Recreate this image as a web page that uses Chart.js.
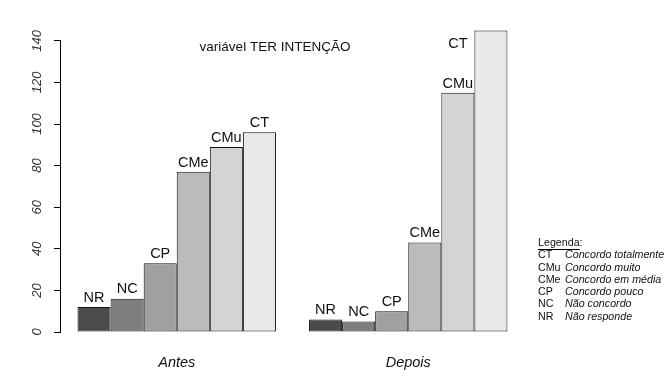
<!DOCTYPE html>
<html>
<head>
<meta charset="utf-8">
<script src="https://cdn.jsdelivr.net/npm/chart.js@4.4.1/dist/chart.umd.min.js"></script>
<style>
  html, body { margin: 0; padding: 0; background: #ffffff; }
  #wrap { width: 670px; height: 383px; }
</style>
</head>
<body>
<div id="wrap"><canvas id="c" width="670" height="383"></canvas></div>
<script>
// ---- data ----
const groups = ['Antes', 'Depois'];
const categories = ['NR', 'NC', 'CP', 'CMe', 'CMu', 'CT'];
const valuesNR  = [12, 6];
const valuesNC  = [16, 5];
const valuesCP  = [33, 10];
const valuesCMe = [77, 43];
const valuesCMu = [89, 115];
const valuesCT  = [96, 145];
const yTicks = [0, 20, 40, 60, 80, 100, 120, 140];
const titleText = 'variável TER INTENÇÃO';
const legendTitle = 'Legenda:';
const legendCodes = ['CT', 'CMu', 'CMe', 'CP', 'NC', 'NR'];
const legendDescs = ['Concordo totalmente', 'Concordo muito', 'Concordo em média', 'Concordo pouco', 'Não concordo', 'Não responde'];

const seriesValues = [valuesNR, valuesNC, valuesCP, valuesCMe, valuesCMu, valuesCT];
const fills = ['#4b4b4b', '#7e7e7e', '#a0a0a0', '#bbbbbb', '#d4d4d4', '#e9e9e9'];
const FONT = '"Liberation Sans", Arial, sans-serif';

const maxTick = yTicks[yTicks.length - 1];

const decorPlugin = {
  id: 'decor',
  afterDatasetsDraw(chart) {
    const ctx = chart.ctx;
    const y = chart.scales.y;
    const area = chart.chartArea;
    ctx.save();
    // axis line from 0 to highest tick
    ctx.strokeStyle = '#000';
    ctx.lineWidth = 1;
    ctx.beginPath();
    const ax = Math.round(area.left) - 0.5;
    ctx.moveTo(ax, y.getPixelForValue(0));
    ctx.lineTo(ax, y.getPixelForValue(maxTick));
    ctx.stroke();

    // bar labels
    ctx.fillStyle = '#111';
    ctx.font = '14.5px ' + FONT;
    ctx.textAlign = 'center';
    chart.data.datasets.forEach((ds, di) => {
      const meta = chart.getDatasetMeta(di);
      meta.data.forEach((el, i) => {
        const v = ds.data[i];
        if (v > maxTick) {
          ctx.textBaseline = 'middle';
          ctx.fillText(ds.label, el.x - el.width, el.y + 14);
        } else {
          ctx.textBaseline = 'bottom';
          ctx.fillText(ds.label, el.x, el.y - 2);
        }
      });
    });

    // title
    ctx.font = '13.5px ' + FONT;
    ctx.textBaseline = 'middle';
    ctx.textAlign = 'center';
    ctx.fillStyle = '#111';
    ctx.fillText(titleText, 275, 47);

    // legend
    const lx = 538;
    let ly = 243;
    ctx.textAlign = 'left';
    ctx.font = '10.7px ' + FONT;
    ctx.fillText(legendTitle, lx, ly);
    const w = ctx.measureText(legendTitle.replace(':', '')).width;
    ctx.beginPath();
    ctx.moveTo(lx, ly + 6.5);
    ctx.lineTo(lx + w, ly + 6.5);
    ctx.stroke();
    legendCodes.forEach((code, i) => {
      const yy = ly + 12.3 * (i + 1);
      ctx.font = '10.7px ' + FONT;
      ctx.fillText(code, lx, yy);
      ctx.font = 'italic 10.7px ' + FONT;
      ctx.fillText(legendDescs[i], 565, yy);
    });
    ctx.restore();
  }
};

new Chart(document.getElementById('c'), {
  type: 'bar',
  data: {
    labels: groups,
    datasets: categories.map((c, i) => ({
      label: c,
      data: seriesValues[i],
      backgroundColor: fills[i],
      borderColor: '#111',
      borderWidth: 1,
      borderSkipped: false,
      categoryPercentage: 6 / 7,
      barPercentage: 1.0
    }))
  },
  options: {
    responsive: false,
    animation: false,
    devicePixelRatio: 1,
    layout: { padding: { left: 0, right: 146, top: 20, bottom: 0 } },
    plugins: {
      legend: { display: false },
      title: { display: false },
      tooltip: { enabled: false }
    },
    scales: {
      x: {
        grid: { display: false, drawTicks: false },
        border: { display: false },
        ticks: {
          color: '#111',
          font: { family: FONT, size: 14.5, style: 'italic' },
          padding: 22
        },
        afterFit: (s) => { s.height = 51; }
      },
      y: {
        min: 0,
        max: 150,
        afterBuildTicks: (s) => { s.ticks = yTicks.map(v => ({ value: v })); },
        grid: { display: true, drawOnChartArea: false, drawTicks: true, tickLength: 7, color: '#000', lineWidth: 1 },
        border: { display: false },
        ticks: {
          color: '#333',
          font: { family: FONT, size: 13, style: 'italic' },
          minRotation: 90,
          maxRotation: 90,
          crossAlign: 'center',
          padding: 6
        },
        afterFit: (s) => { s.width = 61; }
      }
    }
  },
  plugins: [decorPlugin]
});
</script>
</body>
</html>
